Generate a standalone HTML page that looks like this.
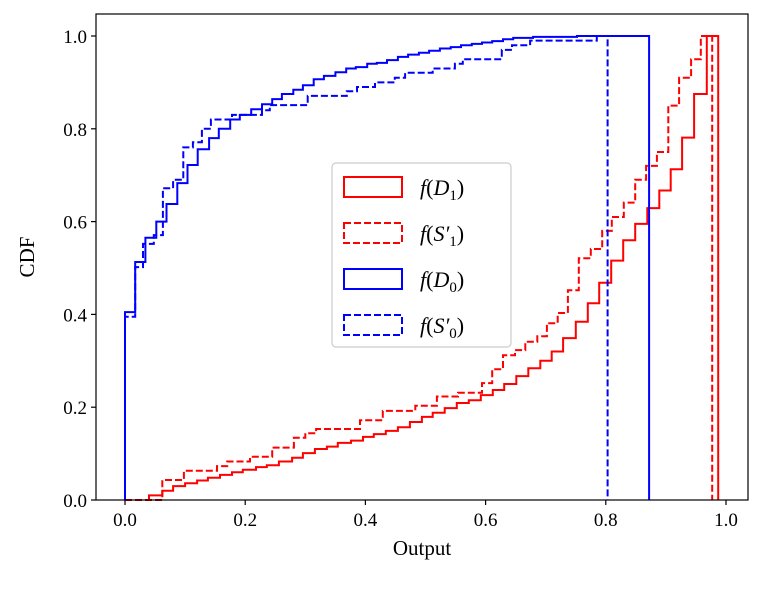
<!DOCTYPE html>
<html><head><meta charset="utf-8"><style>
body{margin:0;background:#fff}
svg text{font-family:"Liberation Serif","DejaVu Serif",serif;fill:#000}
</style></head><body>
<svg width="761" height="584" viewBox="0 0 761 584">
<g id="plot"></g>
</svg>
<script>
const xTicks=[0,0.2,0.4,0.6,0.8,1.0];
const xTickLabels=["0.0","0.2","0.4","0.6","0.8","1.0"];
const yTicks=[0,0.2,0.4,0.6,0.8,1.0];
const yTickLabels=["0.0","0.2","0.4","0.6","0.8","1.0"];
const d0X=[0,.017,.034,.052,.069,.087,.104,.121,.14,.156,.175,.191,.21,.228,.245,.261,.28,.296,.314,.331,.35,.368,.384,.403,.419,.436,.454,.471,.489,.506,.524,.542,.559,.577,.594,.611,.629,.646,.679,.752];
const d0Y=[.405,.513,.565,.60,.638,.683,.722,.756,.78,.80,.82,.83,.842,.853,.864,.875,.884,.894,.907,.914,.922,.93,.933,.94,.942,.948,.955,.96,.964,.968,.973,.976,.98,.983,.986,.989,.993,.996,.998,1.0];
const d0End=.872;
const s0X=[0,.017,.03,.048,.063,.08,.097,.113,.128,.143,.178,.228,.241,.304,.369,.386,.416,.449,.466,.512,.549,.562,.627,.644,.674,.785];
const s0Y=[.395,.502,.552,.571,.672,.69,.76,.771,.80,.82,.83,.84,.851,.871,.881,.89,.90,.91,.921,.93,.94,.95,.97,.98,.99,1.0];
const s0End=.803;
const d1X=[.04,.062,.08,.1,.12,.138,.158,.178,.196,.218,.236,.256,.278,.296,.316,.336,.354,.376,.396,.414,.434,.454,.474,.494,.512,.532,.552,.572,.592,.612,.631,.651,.671,.691,.71,.729,.75,.77,.789,.809,.829,.849,.869,.889,.908,.927,.947,.968];
const d1Y=[.01,.02,.03,.036,.042,.048,.054,.06,.065,.071,.075,.083,.091,.101,.11,.115,.123,.128,.136,.142,.149,.157,.168,.179,.188,.198,.209,.215,.226,.237,.25,.267,.284,.30,.32,.349,.384,.424,.468,.516,.56,.595,.629,.667,.713,.781,.875,.964,1.0].slice(0,48);
d1Y[47]=1.0;
const d1End=.987;
const s1X=[.062,.098,.153,.17,.208,.245,.281,.3,.318,.391,.429,.483,.519,.554,.594,.611,.629,.649,.666,.686,.702,.72,.737,.755,.775,.794,.81,.83,.849,.867,.885,.904,.922,.942,.958];
const s1Y=[.043,.063,.073,.083,.093,.113,.134,.144,.153,.172,.192,.203,.223,.231,.252,.282,.312,.323,.341,.353,.381,.403,.452,.521,.541,.58,.61,.641,.69,.72,.75,.85,.91,.95,1.0];
const s1End=.977;

const NS="http://www.w3.org/2000/svg";
const L=96,R=748,T=14,B=500;
const sx=v=>125+v*601, sy=v=>500-v*464;
const g=document.getElementById('plot');
function mk(t,a){const e=document.createElementNS(NS,t);for(const k in a)e.setAttribute(k,a[k]);g.appendChild(e);return e;}
function stepPath(xs,ys,end){let d=`M${sx(xs[0]).toFixed(1)},${sy(0)}`;for(let i=0;i<xs.length;i++){d+=`H${sx(xs[i]).toFixed(1)}V${sy(ys[i]).toFixed(1)}`;}d+=`H${sx(end).toFixed(1)}V${sy(0)}`;return d;}
function series(name,xs,ys,end,color,dash){const p=mk('path',{d:stepPath(xs,ys,end),fill:'none',stroke:color,'stroke-width':2,'stroke-dasharray':dash?'7,3':'none','stroke-linejoin':'miter'});

}
series('series-f-d1',d1X,d1Y,d1End,'#ff0000',false);
series('series-f-s1',[0].concat(s1X),[0].concat(s1Y),s1End,'#ff0000',true);
series('series-f-d0',d0X,d0Y,d0End,'#0000ff',false);
series('series-f-s0',s0X,s0Y,s0End,'#0000ff',true);
const fr=mk('rect',{x:L,y:T,width:R-L,height:B-T,fill:'none',stroke:'#000','stroke-width':1.2});


xTicks.forEach((v,i)=>{mk('line',{x1:sx(v),x2:sx(v),y1:B,y2:B+5,stroke:'#000','stroke-width':1.2});
const t=mk('text',{x:sx(v),y:B+26,'text-anchor':'middle','font-size':19});t.textContent=xTickLabels[i];

});
yTicks.forEach((v,i)=>{mk('line',{x1:L-5,x2:L,y1:sy(v),y2:sy(v),stroke:'#000','stroke-width':1.2});
const t=mk('text',{x:L-9,y:sy(v)+7,'text-anchor':'end','font-size':19});t.textContent=yTickLabels[i];

});
const xl=mk('text',{x:422,y:555,'text-anchor':'middle','font-size':21});xl.textContent='Output';


const yl=mk('text',{x:34,y:257,'text-anchor':'middle','font-size':21,transform:'rotate(-90 34 257)'});yl.textContent='CDF';


const lg=mk('rect',{x:332,y:163,width:179,height:184,rx:4,fill:'#fff','fill-opacity':0.85,stroke:'#ccc','stroke-width':1.2});


const legendItems=[['f(D','1',false,'#ff0000',false],['f(S′','1',false,'#ff0000',true],['f(D','0',false,'#0000ff',false],['f(S′','0',false,'#0000ff',true]];
legendItems.forEach((it,i)=>{const cy=187+i*46;
const r=mk('rect',{x:344,y:cy-10,width:58,height:20,fill:'none',stroke:it[3],'stroke-width':2,'stroke-dasharray':it[4]?'7,3':'none'});


const t=mk('text',{x:420,y:cy+8,'font-size':22});
t.innerHTML=`<tspan font-style="italic">f</tspan>(<tspan font-style="italic">${it[0].slice(2)}</tspan><tspan font-size="15" dy="5">${it[1]}</tspan><tspan dy="-5">)</tspan>`;

});
</script>
</body></html>
